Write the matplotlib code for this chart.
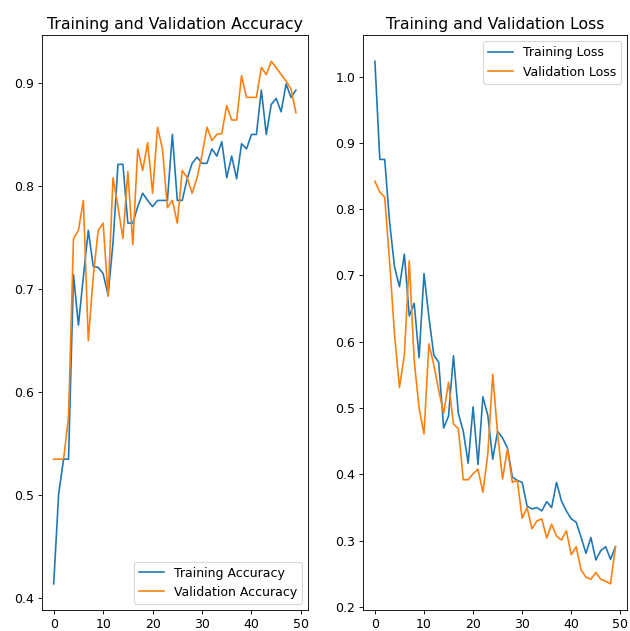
import matplotlib
matplotlib.use('Agg')
import matplotlib.pyplot as plt

epochs = list(range(50))

acc = [0.414, 0.501, 0.535, 0.535, 0.714, 0.665, 0.712, 0.757, 0.722, 0.721,
       0.715, 0.694, 0.745, 0.821, 0.821, 0.764, 0.764, 0.780, 0.793, 0.786,
       0.780, 0.786, 0.786, 0.786, 0.850, 0.786, 0.786, 0.807, 0.822, 0.828,
       0.822, 0.822, 0.836, 0.829, 0.843, 0.808, 0.829, 0.807, 0.841, 0.836,
       0.850, 0.850, 0.893, 0.850, 0.879, 0.885, 0.872, 0.899, 0.886, 0.893]
val_acc = [0.535, 0.535, 0.535, 0.576, 0.749, 0.757, 0.786, 0.650, 0.712, 0.757,
           0.764, 0.693, 0.808, 0.780, 0.749, 0.814, 0.743, 0.836, 0.815, 0.842,
           0.793, 0.857, 0.836, 0.779, 0.786, 0.764, 0.815, 0.808, 0.793, 0.808,
           0.830, 0.857, 0.844, 0.850, 0.851, 0.878, 0.864, 0.864, 0.907, 0.886,
           0.886, 0.886, 0.915, 0.908, 0.921, 0.915, 0.908, 0.902, 0.894, 0.871]

loss = [1.023, 0.875, 0.875, 0.780, 0.713, 0.683, 0.732, 0.639, 0.658, 0.576,
        0.703, 0.637, 0.580, 0.569, 0.470, 0.488, 0.579, 0.492, 0.465, 0.417,
        0.502, 0.415, 0.517, 0.489, 0.423, 0.465, 0.455, 0.440, 0.396, 0.391,
        0.388, 0.352, 0.348, 0.350, 0.345, 0.359, 0.350, 0.388, 0.360, 0.345,
        0.333, 0.328, 0.305, 0.281, 0.305, 0.271, 0.285, 0.291, 0.272, 0.291]
val_loss = [0.842, 0.826, 0.818, 0.720, 0.611, 0.531, 0.580, 0.722, 0.572, 0.500,
            0.461, 0.597, 0.565, 0.527, 0.492, 0.539, 0.476, 0.469, 0.392, 0.392,
            0.401, 0.408, 0.373, 0.431, 0.551, 0.461, 0.393, 0.439, 0.388, 0.391,
            0.334, 0.350, 0.318, 0.330, 0.333, 0.304, 0.325, 0.307, 0.301, 0.315,
            0.279, 0.291, 0.256, 0.245, 0.242, 0.252, 0.242, 0.239, 0.235, 0.291]

plt.rcParams['font.size'] = 11.4
plt.rcParams['axes.titlesize'] = 14.4

dpi = 78.75
fig = plt.figure(figsize=(630 / dpi, 631 / dpi), dpi=dpi)

ax1 = fig.add_axes([0.066, 0.0333, 0.423, 0.911])
ax1.plot(epochs, acc, label='Training Accuracy')
ax1.plot(epochs, val_acc, label='Validation Accuracy')
ax1.legend(loc='lower right')
ax1.set_title('Training and Validation Accuracy')

ax2 = fig.add_axes([0.576, 0.0333, 0.420, 0.911])
ax2.plot(epochs, loss, label='Training Loss')
ax2.plot(epochs, val_loss, label='Validation Loss')
ax2.legend(loc='upper right')
ax2.set_title('Training and Validation Loss')

fig.savefig('out.png', dpi=dpi)
